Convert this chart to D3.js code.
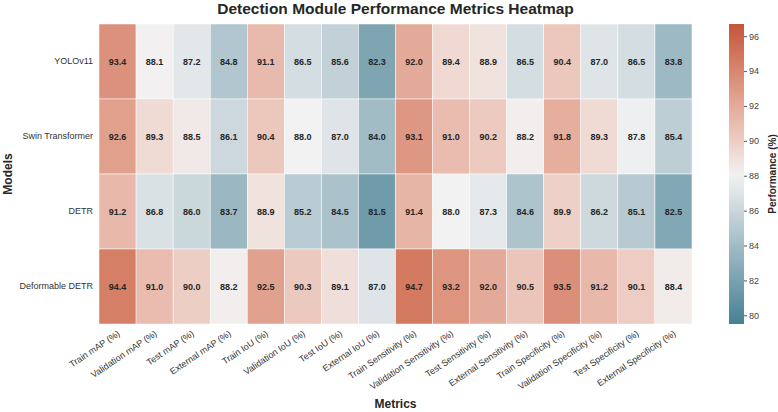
<!DOCTYPE html>
<html>
<head>
<meta charset="utf-8">
<script src="https://d3js.org/d3.v7.min.js"></script>
<style>
  body { margin: 0; background: #fff; }
  text { font-family: "Liberation Sans", Arial, sans-serif; }
</style>
</head>
<body>
<div id="chart"></div>
<script>
var models = ['YOLOv11', 'Swin Transformer', 'DETR', 'Deformable DETR'];
var metrics = ['Train mAP (%)', 'Validation mAP (%)', 'Test mAP (%)', 'External mAP (%)',
  'Train IoU (%)', 'Validation IoU (%)', 'Test IoU (%)', 'External IoU (%)',
  'Train Sensitivity (%)', 'Validation Sensitivity (%)', 'Test Sensitivity (%)', 'External Sensitivity (%)',
  'Train Specificity (%)', 'Validation Specificity (%)', 'Test Specificity (%)', 'External Specificity (%)'];

var yolo = [93.4, 88.1, 87.2, 84.8, 91.1, 86.5, 85.6, 82.3, 92.0, 89.4, 88.9, 86.5, 90.4, 87.0, 86.5, 83.8];
var swin = [92.6, 89.3, 88.5, 86.1, 90.4, 88.0, 87.0, 84.0, 93.1, 91.0, 90.2, 88.2, 91.8, 89.3, 87.8, 85.4];
var detr = [91.2, 86.8, 86.0, 83.7, 88.9, 85.2, 84.5, 81.5, 91.4, 88.0, 87.3, 84.6, 89.9, 86.2, 85.1, 82.5];
var deformable = [94.4, 91.0, 90.0, 88.2, 92.5, 90.3, 89.1, 87.0, 94.7, 93.2, 92.0, 90.5, 93.5, 91.2, 90.1, 88.4];
var rows = [yolo, swin, detr, deformable];

var cbTicks = [80, 82, 84, 86, 88, 90, 92, 94, 96];
var vmin = 79.5, vmax = 96.7, center = 88;

var width = 778, height = 412;
var pLeft = 99, pRight = 692, pTop = 24, pBottom = 324;

var svg = d3.select('#chart').append('svg')
  .attr('width', width).attr('height', height);

var x = d3.scaleBand().domain(metrics).range([pLeft, pRight]);
var y = d3.scaleBand().domain(models).range([pTop, pBottom]);

// diverging colormap centred on 'center', symmetric range like seaborn
var half = Math.max(vmax - center, center - vmin);
var blueSide = d3.interpolateLab('#3f7f93', '#f2f2f2');
var redSide = d3.interpolateLab('#f2f2f2', '#c3553a');
function color(v) {
  var t = (v - (center - half)) / (2 * half);
  t = Math.max(0, Math.min(1, t));
  return t < 0.5 ? blueSide(t * 2) : redSide((t - 0.5) * 2);
}

var cells = [];
rows.forEach(function(r, i) {
  r.forEach(function(v, j) {
    cells.push({ model: models[i], metric: metrics[j], value: v });
  });
});

svg.append('g').selectAll('rect')
  .data(cells).enter().append('rect')
  .attr('x', function(d) { return x(d.metric); })
  .attr('y', function(d) { return y(d.model); })
  .attr('width', x.bandwidth())
  .attr('height', y.bandwidth())
  .attr('fill', function(d) { return color(d.value); })
  .attr('stroke', '#fff')
  .attr('stroke-width', 0.5);

svg.append('g').selectAll('text')
  .data(cells).enter().append('text')
  .attr('x', function(d) { return x(d.metric) + x.bandwidth() / 2; })
  .attr('y', function(d) { return y(d.model) + y.bandwidth() / 2; })
  .attr('text-anchor', 'middle')
  .attr('dominant-baseline', 'central')
  .attr('font-size', '9px')
  .attr('font-weight', 'bold')
  .attr('fill', '#262626')
  .text(function(d) { return d.value.toFixed(1); });

// y axis
var yAxis = svg.append('g')
  .attr('transform', 'translate(' + pLeft + ',0)')
  .call(d3.axisLeft(y).tickSize(0).tickPadding(6));
yAxis.select('.domain').remove();
yAxis.selectAll('text').attr('font-size', '9px').attr('fill', '#333')
  .style('font-family', '"Liberation Sans", Arial, sans-serif');

// x axis
var xAxis = svg.append('g')
  .attr('transform', 'translate(0,' + pBottom + ')')
  .call(d3.axisBottom(x).tickSize(0).tickPadding(0));
xAxis.select('.domain').remove();
xAxis.selectAll('text')
  .attr('font-size', '9px').attr('fill', '#333')
  .style('font-family', '"Liberation Sans", Arial, sans-serif')
  .attr('text-anchor', 'end')
  .attr('dy', '0')
  .attr('y', 0)
  .attr('transform', 'translate(3,11) rotate(-34)');

svg.append('text')
  .attr('x', (pLeft + pRight) / 2).attr('y', 14)
  .attr('text-anchor', 'middle')
  .attr('font-size', '15.5px').attr('font-weight', 'bold').attr('fill', '#262626')
  .text('Detection Module Performance Metrics Heatmap');

svg.append('text')
  .attr('x', (pLeft + pRight) / 2).attr('y', 408)
  .attr('text-anchor', 'middle')
  .attr('font-size', '12px').attr('font-weight', 'bold').attr('fill', '#262626')
  .text('Metrics');

svg.append('text')
  .attr('transform', 'translate(12,' + (pTop + pBottom) / 2 + ') rotate(-90)')
  .attr('text-anchor', 'middle')
  .attr('font-size', '12px').attr('font-weight', 'bold').attr('fill', '#262626')
  .text('Models');

// colorbar
var cbX = 729, cbW = 15;
var cy = d3.scaleLinear().domain([vmin, vmax]).range([pBottom, pTop]);
var defs = svg.append('defs');
var grad = defs.append('linearGradient').attr('id', 'cbgrad')
  .attr('x1', 0).attr('y1', 1).attr('x2', 0).attr('y2', 0);
d3.range(0, 21).forEach(function(i) {
  var v = vmin + (vmax - vmin) * i / 20;
  grad.append('stop').attr('offset', (i / 20 * 100) + '%').attr('stop-color', color(v));
});
svg.append('rect')
  .attr('x', cbX).attr('y', pTop).attr('width', cbW).attr('height', pBottom - pTop)
  .attr('fill', 'url(#cbgrad)');

var cbAxis = svg.append('g')
  .attr('transform', 'translate(' + (cbX + cbW) + ',0)')
  .call(d3.axisRight(cy).tickValues(cbTicks).tickSize(3).tickPadding(2));
cbAxis.select('.domain').remove();
cbAxis.selectAll('line').attr('stroke', '#555');
cbAxis.selectAll('text').attr('font-size', '9px').attr('fill', '#444')
  .style('font-family', '"Liberation Sans", Arial, sans-serif');

svg.append('text')
  .attr('transform', 'translate(776,' + (pTop + pBottom) / 2 + ') rotate(-90)')
  .attr('text-anchor', 'middle')
  .attr('font-size', '10px').attr('font-weight', 'bold').attr('fill', '#262626')
  .text('Performance (%)');
</script>
</body>
</html>
